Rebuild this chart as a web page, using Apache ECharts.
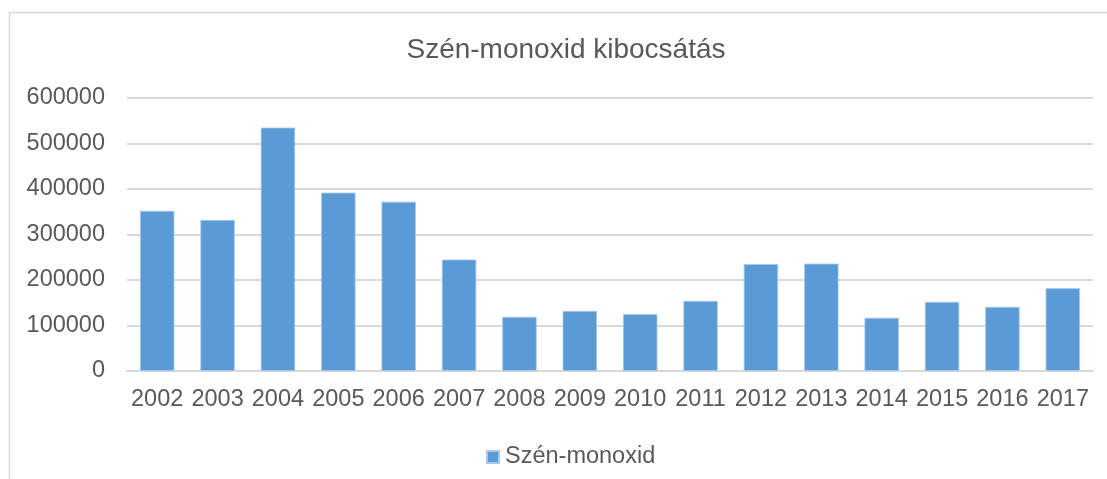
<!DOCTYPE html>
<html>
<head>
<meta charset="utf-8">
<style>
  html, body { margin: 0; padding: 0; background: #ffffff; }
  #chart { width: 1107px; height: 479px; }
</style>
<script src="https://cdn.jsdelivr.net/npm/echarts@6/dist/echarts.min.js"></script>
</head>
<body>
<div id="chart"></div>
<script>
// Yearly carbon monoxide emissions
const years = ['2002', '2003', '2004', '2005', '2006', '2007', '2008', '2009',
               '2010', '2011', '2012', '2013', '2014', '2015', '2016', '2017'];
const emissions = [352000, 332000, 535000, 392000, 372000, 245000, 119000, 132000,
                   125000, 154000, 235000, 236000, 117000, 152000, 141000, 182000];
const yTicks = [0, 100000, 200000, 300000, 400000, 500000, 600000];

const FONT = '"Liberation Sans", Arial, sans-serif';
const TEXT = '#595959';
const LINE = '#d9d9d9';

const chart = echarts.init(document.getElementById('chart'), null, { renderer: 'canvas' });
chart.setOption({
  animation: false,
  backgroundColor: '#ffffff',
  graphic: [{
    type: 'rect',
    shape: { x: 9.5, y: 12.5, width: 1300, height: 700 },
    style: { fill: 'none', stroke: LINE, lineWidth: 1.5 },
    silent: true
  }],
  title: {
    text: 'Szén-monoxid kibocsátás',
    left: 561,
    top: 30,
    textAlign: 'center',
    textStyle: { fontFamily: FONT, fontSize: 28, fontWeight: 'normal', color: TEXT, lineHeight: 30 }
  },
  legend: {
    data: ['Szén-monoxid'],
    left: 481,
    top: 440,
    icon: 'rect',
    itemWidth: 12,
    itemHeight: 12,
    textStyle: { fontFamily: FONT, fontSize: 23.5, color: TEXT, padding: [0, 0, 0, 1] }
  },
  grid: { left: 127, right: 14, top: 98, bottom: 108, containLabel: false },
  xAxis: {
    type: 'category',
    data: years,
    axisLine: { lineStyle: { color: LINE, width: 2 } },
    axisTick: { show: false },
    axisLabel: { fontFamily: FONT, fontSize: 23.5, color: TEXT, margin: 17, interval: 0 }
  },
  yAxis: {
    type: 'value',
    min: yTicks[0],
    max: yTicks[yTicks.length - 1],
    interval: yTicks[1] - yTicks[0],
    axisLine: { show: false },
    axisTick: { show: false },
    splitLine: { lineStyle: { color: LINE, width: 2 } },
    axisLabel: {
      fontFamily: FONT, fontSize: 23.5, color: TEXT, margin: 22,
      formatter: v => String(v)
    }
  },
  series: [{
    name: 'Szén-monoxid',
    type: 'bar',
    data: emissions,
    barCategoryGap: '43%',
    itemStyle: { color: '#5b9bd5', borderColor: '#a9c9ec', borderWidth: 0.8 }
  }]
});
</script>
</body>
</html>
